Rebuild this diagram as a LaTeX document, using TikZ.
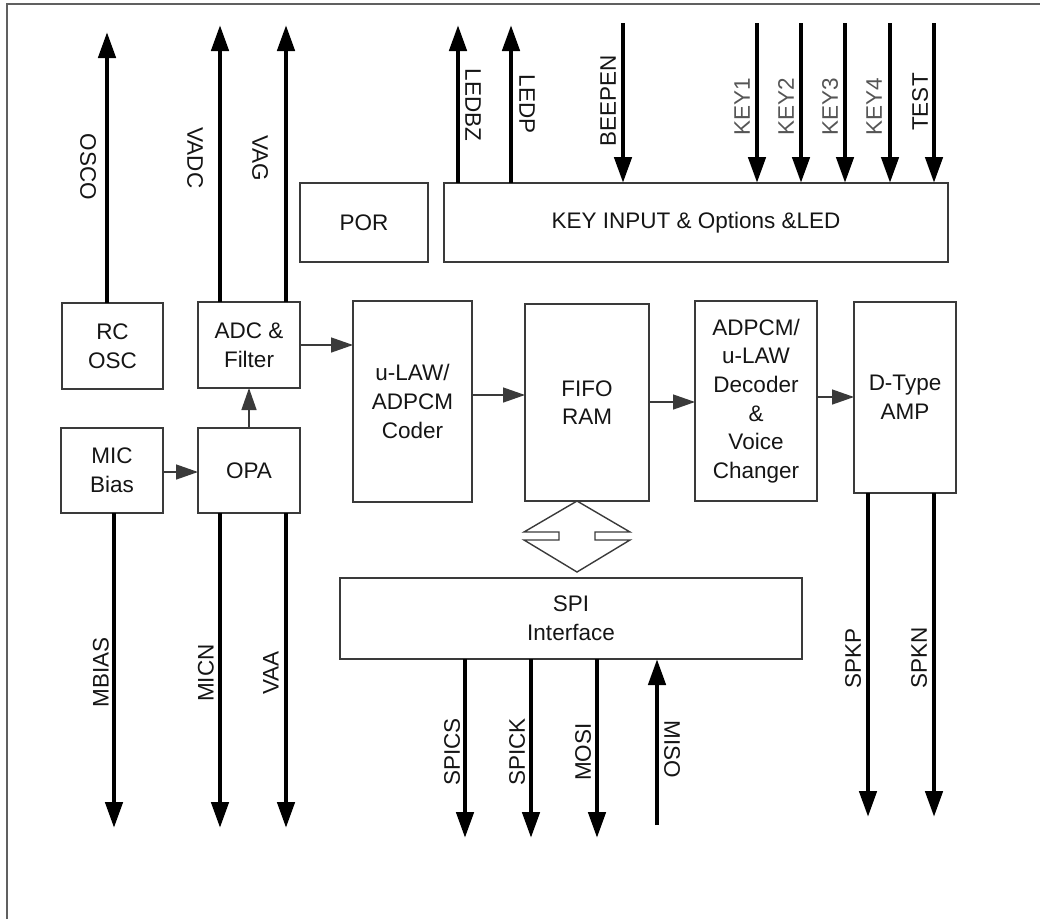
\documentclass[tikz,border=0pt]{standalone}
\usepackage{fontspec}
\setmainfont{Liberation Sans}
\usetikzlibrary{arrows.meta}
\definecolor{boxc}{HTML}{3A3A3A}
\definecolor{txt}{HTML}{151515}
\definecolor{keyc}{HTML}{555555}
\definecolor{framec}{HTML}{606060}
\begin{document}
\begin{tikzpicture}[x=1pt,y=-1pt,
  blk/.style={draw=boxc, line width=1.4pt, inner sep=0pt, outer sep=0pt, align=center,
    font=\fontsize{22.5}{28.6}\selectfont, text=txt},
  pin/.style={line width=4.6pt, draw=black, -{Triangle[length=26pt,width=17pt]}},
  sig/.style={line width=1.4pt, draw=boxc, -{Triangle[length=22pt,width=15pt]}},
  lbl/.style={font=\fontsize{22.5}{27}\selectfont, text=txt, inner sep=0pt},
  klbl/.style={lbl, text=keyc},
  up/.style={rotate=-90},
  dn/.style={rotate=90}]
\useasboundingbox (0,0) rectangle (1040,919);
\draw[line width=1.6pt, draw=framec] (7,919) -- (7,4) -- (1040,4);

% blocks
\node[blk, minimum width=128pt, minimum height=79pt] (por) at (364,222.5) {POR};
\node[blk, minimum width=504pt, minimum height=79pt] (key) at (696,222.5) {KEY INPUT \& Options \&LED};
\node[blk, minimum width=101pt, minimum height=86pt] (rc) at (112.5,346) {RC\\OSC};
\node[blk, minimum width=102pt, minimum height=86pt] (adc) at (249,345) {ADC \&\\Filter};
\node[blk, minimum width=102pt, minimum height=85pt] (mic) at (112,470.5) {MIC\\Bias};
\node[blk, minimum width=102pt, minimum height=85pt] (opa) at (249,470.5) {OPA};
\node[blk, minimum width=119pt, minimum height=201pt] (coder) at (412.5,401.5) {u-LAW/\\ADPCM\\Coder};
\node[blk, minimum width=124pt, minimum height=197pt] (fifo) at (587,402.5) {FIFO\\RAM};
\node[blk, minimum width=122pt, minimum height=200pt] (dec) at (756,401) {ADPCM/\\u-LAW\\Decoder\\\&\\Voice\\Changer};
\node[blk, minimum width=102pt, minimum height=191pt] (amp) at (905,397.5) {D-Type\\AMP};
\node[blk, minimum width=462pt, minimum height=81pt] (spi) at (571,618.5) {SPI\\Interface};

% internal signals
\draw[sig] (adc.east) -- (adc.east -| coder.west);
\draw[sig] (coder.east |- 0,395) -- (fifo.west |- 0,395);
\draw[sig] (fifo.east |- 0,402) -- (dec.west |- 0,402);
\draw[sig] (dec.east |- 0,397) -- (amp.west |- 0,397);
\draw[sig] (mic.east |- 0,472) -- (opa.west |- 0,472);
\draw[sig] (opa.north) -- (adc.south);

% FIFO <-> SPI double arrow
\coordinate (dtop) at (577,0);
\draw[line width=1.4pt, draw=boxc, line join=miter] (fifo.south -| dtop) -- ++(53,31) -- ++(-35,0) -- ++(0,8) -- ++(35,0)
  -- ++(-53,32) -- ++(-53,-32) -- ++(35,0) -- ++(0,-8) -- ++(-35,0) -- cycle;

% top pins (outputs)
\coordinate (osco) at (107,32);
\coordinate (vadc) at (220,25);
\coordinate (vag) at (286,25);
\coordinate (ledbz) at (458,25);
\coordinate (ledp) at (511,25);
\draw[pin] (rc.north -| osco) -- (osco);
\draw[pin] (adc.north -| vadc) -- (vadc);
\draw[pin] (adc.north -| vag) -- (vag);
\draw[pin] (key.north -| ledbz) -- (ledbz);
\draw[pin] (key.north -| ledp) -- (ledp);
% top pins (inputs)
\coordinate (beepen) at (623,23);
\coordinate (key1) at (757,23);
\coordinate (key2) at (801,23);
\coordinate (key3) at (845,23);
\coordinate (key4) at (890,23);
\coordinate (test) at (934,23);
\foreach \p in {beepen,key1,key2,key3,key4,test}
  \draw[pin] (\p) -- (key.north -| \p);

% bottom pins
\coordinate (mbias) at (114,828);
\coordinate (micn) at (220,828);
\coordinate (vaa) at (286,828);
\draw[pin] (mic.south -| mbias) -- (mbias);
\draw[pin] (opa.south -| micn) -- (micn);
\draw[pin] (opa.south -| vaa) -- (vaa);
\coordinate (spics) at (465,838);
\coordinate (spick) at (531,838);
\coordinate (mosi) at (597,838);
\coordinate (miso) at (657,825);
\draw[pin] (spi.south -| spics) -- (spics);
\draw[pin] (spi.south -| spick) -- (spick);
\draw[pin] (spi.south -| mosi) -- (mosi);
\draw[pin] (miso) -- (spi.south -| miso);
\coordinate (spkp) at (868,817);
\coordinate (spkn) at (934,817);
\draw[pin] (amp.south -| spkp) -- (spkp);
\draw[pin] (amp.south -| spkn) -- (spkn);

% pin labels
\node[lbl, up] (losco) at (88,167) {OSCO};
\node[lbl, up] (lvadc) at (195,158) {VADC};
\node[lbl, up] (lvag) at (260,158) {VAG};
\node[lbl, up] (lledbz) at (473,105) {LEDBZ};
\node[lbl, up] (lledp) at (527,104) {LEDP};
\node[lbl, dn] (lbeepen) at (608,101) {BEEPEN};
\node[klbl, dn] (lkey1) at (742,107) {KEY1};
\node[klbl, dn] (lkey2) at (786,107) {KEY2};
\node[klbl, dn] (lkey3) at (830,107) {KEY3};
\node[klbl, dn] (lkey4) at (874,107) {KEY4};
\node[lbl, dn] (ltest) at (920,102) {TEST};
\node[lbl, dn] (lmbias) at (101,672) {MBIAS};
\node[lbl, dn] (lmicn) at (206,673) {MICN};
\node[lbl, dn] (lvaa) at (271,673) {VAA};
\node[lbl, dn] (lspics) at (452,752) {SPICS};
\node[lbl, dn] (lspick) at (517,752) {SPICK};
\node[lbl, dn] (lmosi) at (583,752) {MOSI};
\node[lbl, up] (lmiso) at (672,749) {MISO};
\node[lbl, dn] (lspkp) at (853,658) {SPKP};
\node[lbl, dn] (lspkn) at (919,658) {SPKN};
\end{tikzpicture}
\end{document}
